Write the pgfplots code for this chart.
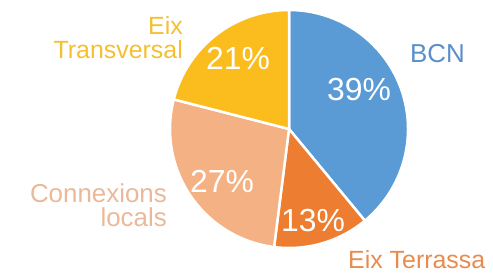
\documentclass[border=0pt]{standalone}
\usepackage{pgfplots}
\usepackage{pgfplotstable}
\pgfplotsset{compat=1.18}
\usepackage{fontspec}
\setmainfont{Liberation Sans}
\definecolor{cBCN}{HTML}{5B9BD5}
\definecolor{cTer}{HTML}{ED7D31}
\definecolor{cCon}{HTML}{F4B183}
\definecolor{cTra}{HTML}{FBBC1D}
\definecolor{lBCN}{HTML}{5A8FCB}
\definecolor{lTer}{HTML}{E98B4F}
\definecolor{lCon}{HTML}{EBB898}
\definecolor{lTra}{HTML}{F4C030}
\pgfplotstableread{
value color
39 cBCN
13 cTer
27 cCon
21 cTra
}\piedata
\begin{document}
\begin{tikzpicture}
\begin{axis}[x=1bp,y=1bp,scale only axis,xmin=0,xmax=493,ymin=0,ymax=272,hide axis,clip=false]
\path (axis cs:0,0) rectangle (axis cs:493,272);
\def\s{90}
\pgfplotsforeachungrouped \i in {0,...,3}{%
  \pgfplotstablegetelem{\i}{value}\of\piedata \let\v\pgfplotsretval
  \pgfplotstablegetelem{\i}{color}\of\piedata \let\c\pgfplotsretval
  \pgfmathsetmacro\e{\s-3.6*\v}%
  \edef\temp{\noexpand\fill[\c,draw=white,line width=2.5bp,line join=round] (axis cs:289,143) -- +(\s:119bp) arc[start angle=\s,end angle=\e,radius=119bp] -- cycle;}%
  \temp
  \global\let\s\e
}
\begin{scope}[every node/.style={inner sep=0pt}]
\node[white,font=\fontsize{32}{34}\selectfont] at (axis cs:359,182) {39\%};
\node[white,font=\fontsize{32}{34}\selectfont] at (axis cs:313,51) {13\%};
\node[white,font=\fontsize{32}{34}\selectfont] at (axis cs:222,91) {27\%};
\node[white,font=\fontsize{32}{34}\selectfont] at (axis cs:238,214) {21\%};
\node[lBCN,font=\fontsize{26}{26}\selectfont,anchor=base west] at (axis cs:410,210) {BCN};
\node[lTer,font=\fontsize{25}{26}\selectfont,anchor=base west] at (axis cs:348,4) {Eix Terrassa};
\node[lCon,font=\fontsize{26}{24}\selectfont,anchor=south east,align=right] at (axis cs:167,45) {Connexions\\locals};
\node[lTra,font=\fontsize{25}{24}\selectfont,anchor=south east,align=right] at (axis cs:183,213) {Eix\\Transversal};
\end{scope}
\end{axis}
\end{tikzpicture}
\end{document}
